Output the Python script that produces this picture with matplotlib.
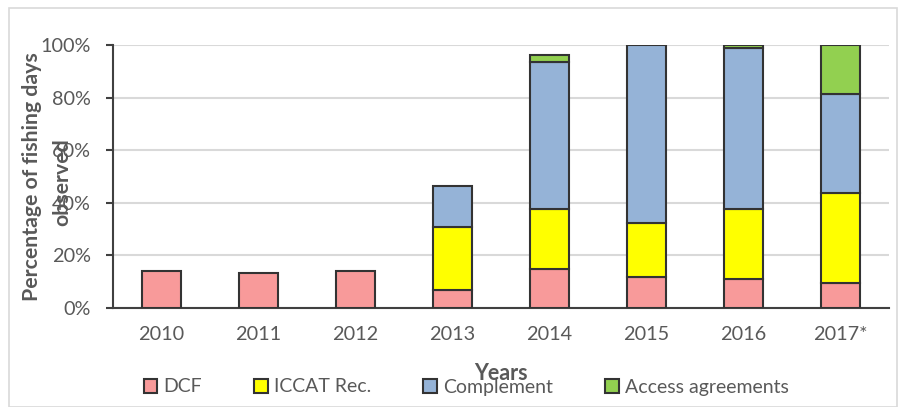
import matplotlib
matplotlib.use("Agg")
import matplotlib.pyplot as plt
from matplotlib.patches import Rectangle, Patch
import numpy as np

years = ["2010", "2011", "2012", "2013", "2014", "2015", "2016", "2017*"]
dcf = [13.9, 13.3, 14.2, 6.8, 14.7, 11.9, 10.9, 9.4]
iccat = [0.0, 0.0, 0.0, 24.1, 22.9, 20.3, 26.7, 34.2]
complement = [0.0, 0.0, 0.0, 15.5, 55.8, 67.8, 61.1, 37.7]
access = [0.0, 0.0, 0.0, 0.0, 2.8, 0.0, 1.3, 18.7]

series = [("DCF", dcf, "#F89A9A"), ("ICCAT Rec.", iccat, "#FFFF00"),
          ("Complement", complement, "#95B3D7"), ("Access agreements", access, "#92D050")]

plt.rcParams['font.family'] = ['Lato', 'DejaVu Sans']

fig = plt.figure(figsize=(9.02, 4.07), dpi=100)
ax = fig.add_axes([113/902, 1-308/407, 776/902, 263/407])

x = np.arange(len(years))
bottom = np.zeros(len(years))
handles = []
for name, vals, col in series:
    v = np.array(vals)
    mask = v > 0
    ax.bar(x[mask], v[mask], width=0.4, bottom=bottom[mask], color=col,
           edgecolor="#333333", linewidth=1.5, zorder=3)
    bottom += v
    handles.append(Patch(facecolor=col, edgecolor="#333333", linewidth=1.5, label=name))

ax.set_xlim(-0.5, len(years) - 0.5)
ax.set_ylim(0, 100)
ax.set_yticks(np.arange(0, 101, 20))
ax.set_yticklabels([f"{v}%" for v in range(0, 101, 20)])
ax.set_xticks(x)
ax.set_xticklabels(years)
ax.grid(axis="y", color="#d9d9d9", linewidth=1.5, zorder=0)
ax.set_axisbelow(True)
for s in ["top", "right"]:
    ax.spines[s].set_visible(False)
for s in ["left", "bottom"]:
    ax.spines[s].set_color("#404040")
    ax.spines[s].set_linewidth(1.5)
ax.tick_params(axis="y", length=5, width=1.5, color="#404040", pad=11, labelsize=14.3, labelcolor="#595959")
ax.tick_params(axis="x", length=0, pad=13, labelsize=14.3, labelcolor="#595959")

# two-line y axis title, drawn as two lines so both stay centred on the axis
fig.text(32/902, 1-177/407, "Percentage of fishing days", rotation=90,
         ha="center", va="center", fontsize=15.3, fontweight="bold", color="#595959")
fig.text(62/902, 1-182/407, "observed", rotation=90,
         ha="center", va="center", fontsize=15.3, fontweight="bold", color="#595959")
fig.text(501/902, 1-373/407, "Years", ha="center", va="center", fontsize=15.5,
         fontweight="bold", color="#595959")

leg = fig.legend(handles=handles, loc="center", bbox_to_anchor=(466/902, 1-387/407), ncol=4,
                 frameon=False, fontsize=14, handlelength=0.7, handleheight=0.7,
                 handletextpad=0.3, columnspacing=2.7)
for t in leg.get_texts():
    t.set_color("#595959")

fig.patches.append(Rectangle((9/902, 0), 888/902, 1-8/407, transform=fig.transFigure,
                             fill=False, edgecolor="#d9d9d9", linewidth=1.2))

fig.savefig("out.png", dpi=100)
